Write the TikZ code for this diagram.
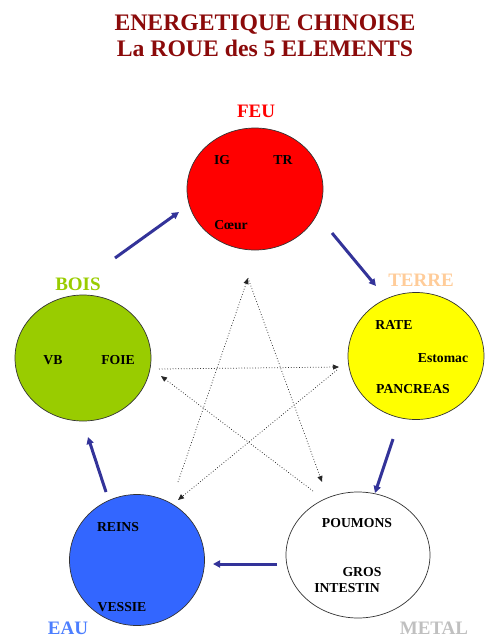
\documentclass[tikz,border=0pt]{standalone}
\usepackage{fontspec}
\setmainfont{Liberation Serif}
\usetikzlibrary{shapes.geometric,arrows.meta}
\definecolor{titlered}{HTML}{8B0A0A}
\definecolor{feured}{HTML}{FF0000}
\definecolor{boisgreen}{HTML}{99CC00}
\definecolor{terreyel}{HTML}{FFFF00}
\definecolor{terrelab}{HTML}{FFCC99}
\definecolor{eaublue}{HTML}{3366FF}
\definecolor{eaulab}{HTML}{4D7FFF}
\definecolor{metallab}{HTML}{C0C0C0}
\definecolor{cyclecol}{HTML}{333399}
\begin{document}
\begin{tikzpicture}[x=1pt,y=-1pt,
  elem/.style={draw=black!80,line width=0.7pt,ellipse,inner sep=0pt},
  organ/.style={font=\bfseries\fontsize{13.7}{13.7}\selectfont,anchor=base,text=black},
  elabel/.style={font=\bfseries\fontsize{19}{19}\selectfont,anchor=base},
  cycle/.style={draw=cyclecol,line width=3pt,-{Triangle[length=7pt,width=7pt]}},
  ctrl/.style={draw=black!85,line width=0.75pt,dotted,-{Triangle[length=6pt,width=5pt]}}]
\useasboundingbox (0,0) rectangle (500,638);
% title
\node[font=\bfseries\fontsize{23.7}{23.7}\selectfont,text=titlered,anchor=base] (t1) at (265,30) {ENERGETIQUE CHINOISE};
\node[font=\bfseries\fontsize{23.7}{23.7}\selectfont,text=titlered,anchor=base] (t2) at (265,56) {La ROUE des 5 ELEMENTS};
% elements
\node[elem,fill=feured,minimum width=136pt,minimum height=122pt] (feu) at (255,189) {};
\node[elem,fill=boisgreen,minimum width=136pt,minimum height=126pt] (bois) at (83,358) {};
\node[elem,fill=terreyel,minimum width=136pt,minimum height=127pt] (terre) at (416,356) {};
\node[elem,fill=eaublue,minimum width=135pt,minimum height=131pt] (eau) at (137,560) {};
\node[elem,fill=white,minimum width=144pt,minimum height=126pt] (metal) at (358,555) {};
% element labels
\node[elabel,text=feured] (lfeu) at (256,117) {FEU};
\node[elabel,text=boisgreen] (lbois) at (78,290) {BOIS};
\node[elabel,text=terrelab] (lterre) at (421,286) {TERRE};
\node[elabel,text=eaulab] (leau) at (68,634) {EAU};
\node[elabel,text=metallab] (lmetal) at (434,634) {METAL};
% organs
\node[organ] (ig) at (222,164) {IG};
\node[organ] (tr) at (283,164) {TR};
\node[organ] (coeur) at (231,229) {Cœur};
\node[organ] (vb) at (53,364) {VB};
\node[organ] (foie) at (118,364) {FOIE};
\node[organ] (rate) at (394,329) {RATE};
\node[organ] (estomac) at (443,362) {Estomac};
\node[organ] (pancreas) at (413,393) {PANCREAS};
\node[organ] (reins) at (118,531) {REINS};
\node[organ] (vessie) at (122,611) {VESSIE};
\node[organ] (poumons) at (357,527) {POUMONS};
\node[organ] (gros) at (362,576) {GROS};
\node[organ] (intestin) at (347,592) {INTESTIN};
% cycle arrow end points
\coordinate (c1a) at (115,258); \coordinate (c1b) at (179,212);
\coordinate (c2a) at (332,233); \coordinate (c2b) at (376,286);
\coordinate (c3a) at (393,439); \coordinate (c3b) at (375,493);
\coordinate (c4a) at (277,564); \coordinate (c4b) at (213,564);
\coordinate (c5a) at (106,492); \coordinate (c5b) at (88,437);
\draw[cycle] (c1a) -- (c1b);
\draw[cycle] (c2a) -- (c2b);
\draw[cycle] (c3a) -- (c3b);
\draw[cycle] (c4a) -- (c4b);
\draw[cycle] (c5a) -- (c5b);
% control star
\coordinate (apex) at (248,278);
\coordinate (seau) at (178,482);
\coordinate (smetal) at (322,482);
\coordinate (sbois) at (159,369);
\coordinate (sterre) at (339,367);
\coordinate (smetal2) at (313,491);
\coordinate (sbois2) at (161,376);
\coordinate (sterre2) at (337,370);
\coordinate (seau2) at (178,500);
\draw[ctrl] (seau) -- (apex);
\draw[ctrl] (apex) -- (smetal);
\draw[ctrl] (sbois) -- (sterre);
\draw[ctrl] (smetal2) -- (sbois2);
\draw[ctrl] (sterre2) -- (seau2);
\end{tikzpicture}
\end{document}
